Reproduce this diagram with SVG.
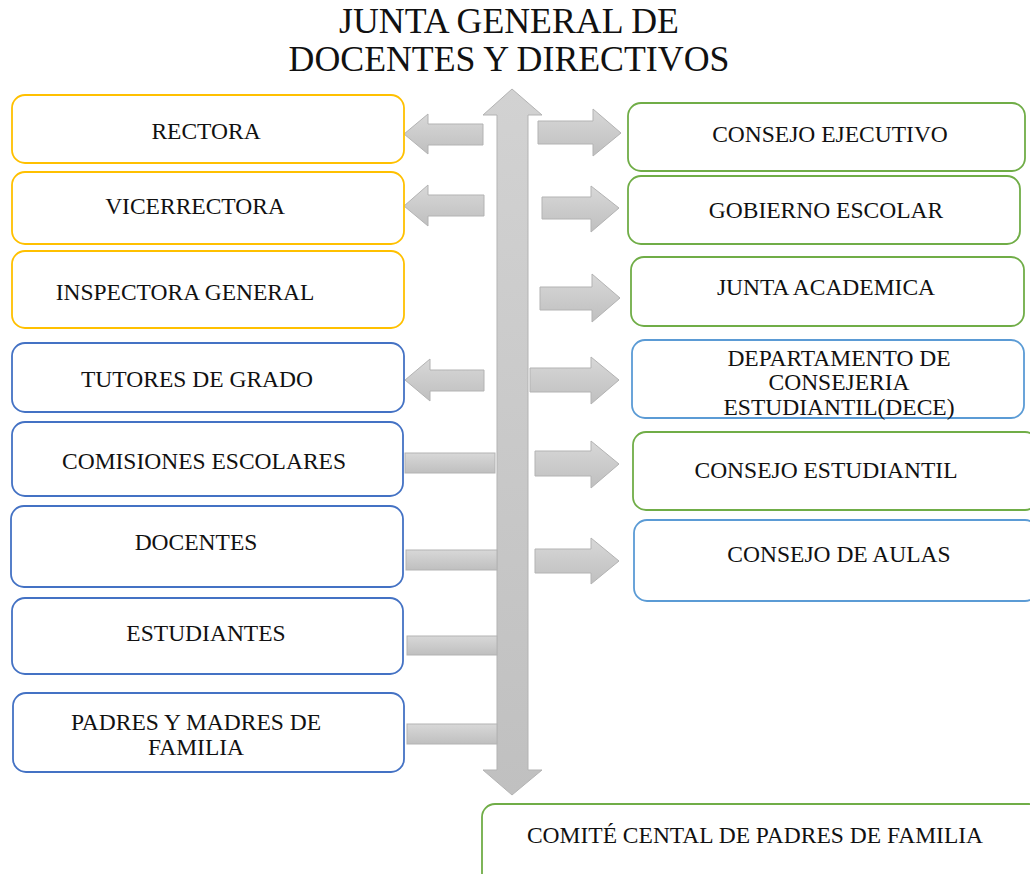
<svg xmlns="http://www.w3.org/2000/svg" width="1030" height="874" viewBox="0 0 1030 874">
<defs>
<linearGradient id="gv" x1="0" y1="0" x2="0" y2="1">
<stop offset="0" stop-color="#d8d8d8"/>
<stop offset="1" stop-color="#bfbfbf"/>
</linearGradient>
<linearGradient id="gc" x1="0" y1="0" x2="0" y2="1">
<stop offset="0" stop-color="#d2d2d2"/>
<stop offset="1" stop-color="#c0c0c0"/>
</linearGradient>
<style>
.box{fill:#fff;stroke-width:1.8}
.y{stroke:#FFC000}
.g{stroke:#70AD47}
.b{stroke:#4472C4}
.lb{stroke:#5B9BD5}
.ar{fill:url(#gv);stroke:#b3b3b3;stroke-width:1}
.t{font-family:"Liberation Serif","Times New Roman",serif;font-size:23.5px;fill:#111;text-anchor:middle}
.title{font-family:"Liberation Serif","Times New Roman",serif;font-size:35.8px;fill:#111;text-anchor:middle}
</style>
</defs>
<rect width="1030" height="874" fill="#fff"/>
<g id="title">
<text class="title" x="509" y="33">JUNTA GENERAL DE</text>
<text class="title" x="509" y="71">DOCENTES Y DIRECTIVOS</text>
</g>
<g id="connectors">
<polygon points="512,89 542,115 528,115 528,770 542,770 512,795 483,770 497,770 497,115 483,115" fill="url(#gc)" stroke="#b3b3b3" stroke-width="1"/>
<polygon class="ar" points="404,134 428,114 428,124 483,124 483,145 428,145 428,154"/>
<polygon class="ar" points="538,121 593,121 593,109 621,133 593,156 593,144 538,144"/>
<polygon class="ar" points="404,206 428,185 428,195 484,195 484,216 428,216 428,226"/>
<polygon class="ar" points="542,197 591,197 591,186 619,208 591,232 591,219 542,219"/>
<polygon class="ar" points="540,287 592,287 592,274 620,298 592,322 592,310 540,310"/>
<polygon class="ar" points="405,380 430,359 430,370 484,370 484,391 430,391 430,401"/>
<polygon class="ar" points="530,368 591,368 591,357 619,380 591,404 591,392 530,392"/>
<rect class="ar" x="405" y="453" width="90" height="20"/>
<polygon class="ar" points="535,451 591,451 591,441 619,464 591,488 591,476 535,476"/>
<rect class="ar" x="406" y="550" width="91" height="20"/>
<polygon class="ar" points="535,549 591,549 591,538 619,561 591,584 591,573 535,573"/>
<rect class="ar" x="407" y="636" width="90" height="19"/>
<rect class="ar" x="407" y="724" width="90" height="20"/>
</g>
<g id="rectora">
<rect class="box y" x="12" y="95" width="392" height="68" rx="13"/>
<text class="t" x="206" y="139">RECTORA</text>
</g>
<g id="vicerrectora">
<rect class="box y" x="12" y="172" width="392" height="72" rx="13"/>
<text class="t" x="195" y="214">VICERRECTORA</text>
</g>
<g id="inspectora">
<rect class="box y" x="12" y="251" width="392" height="77" rx="13"/>
<text class="t" x="185" y="300">INSPECTORA GENERAL</text>
</g>
<g id="tutores">
<rect class="box b" x="12" y="343" width="392" height="69" rx="13"/>
<text class="t" x="197" y="387">TUTORES  DE GRADO</text>
</g>
<g id="comisiones">
<rect class="box b" x="12" y="422" width="391" height="74" rx="13"/>
<text class="t" x="204" y="469">COMISIONES ESCOLARES</text>
</g>
<g id="docentes">
<rect class="box b" x="11" y="506" width="392" height="81" rx="13"/>
<text class="t" x="196" y="550">DOCENTES</text>
</g>
<g id="estudiantes">
<rect class="box b" x="12" y="598" width="391" height="76" rx="13"/>
<text class="t" x="206" y="641">ESTUDIANTES</text>
</g>
<g id="padres">
<rect class="box b" x="13" y="693" width="391" height="79" rx="13"/>
<text class="t" x="196" y="730">PADRES Y MADRES DE</text>
<text class="t" x="196" y="755">FAMILIA</text>
</g>
<g id="consejo-ejecutivo">
<rect class="box g" x="628" y="103" width="397" height="68" rx="13"/>
<text class="t" x="830" y="142">CONSEJO EJECUTIVO</text>
</g>
<g id="gobierno-escolar">
<rect class="box g" x="628" y="176" width="392" height="68" rx="13"/>
<text class="t" x="826" y="218">GOBIERNO ESCOLAR</text>
</g>
<g id="junta-academica">
<rect class="box g" x="631" y="257" width="393" height="69" rx="13"/>
<text class="t" x="826" y="295">JUNTA ACADEMICA</text>
</g>
<g id="dece">
<rect class="box lb" x="632" y="340" width="392" height="78" rx="13"/>
<text class="t" x="839" y="366">DEPARTAMENTO DE</text>
<text class="t" x="839" y="390">CONSEJERIA</text>
<text class="t" x="839" y="415">ESTUDIANTIL(DECE)</text>
</g>
<g id="consejo-estudiantil">
<rect class="box g" x="633" y="432" width="405" height="78" rx="13"/>
<text class="t" x="826" y="478">CONSEJO ESTUDIANTIL</text>
</g>
<g id="consejo-aulas">
<rect class="box lb" x="634" y="520" width="404" height="81" rx="13"/>
<text class="t" x="839" y="562">CONSEJO DE AULAS</text>
</g>
<g id="comite">
<rect class="box g" x="482" y="804" width="560" height="90" rx="13"/>
<text class="t" x="755" y="843">COMITÉ  CENTAL DE PADRES DE FAMILIA</text>
</g>
</svg>
